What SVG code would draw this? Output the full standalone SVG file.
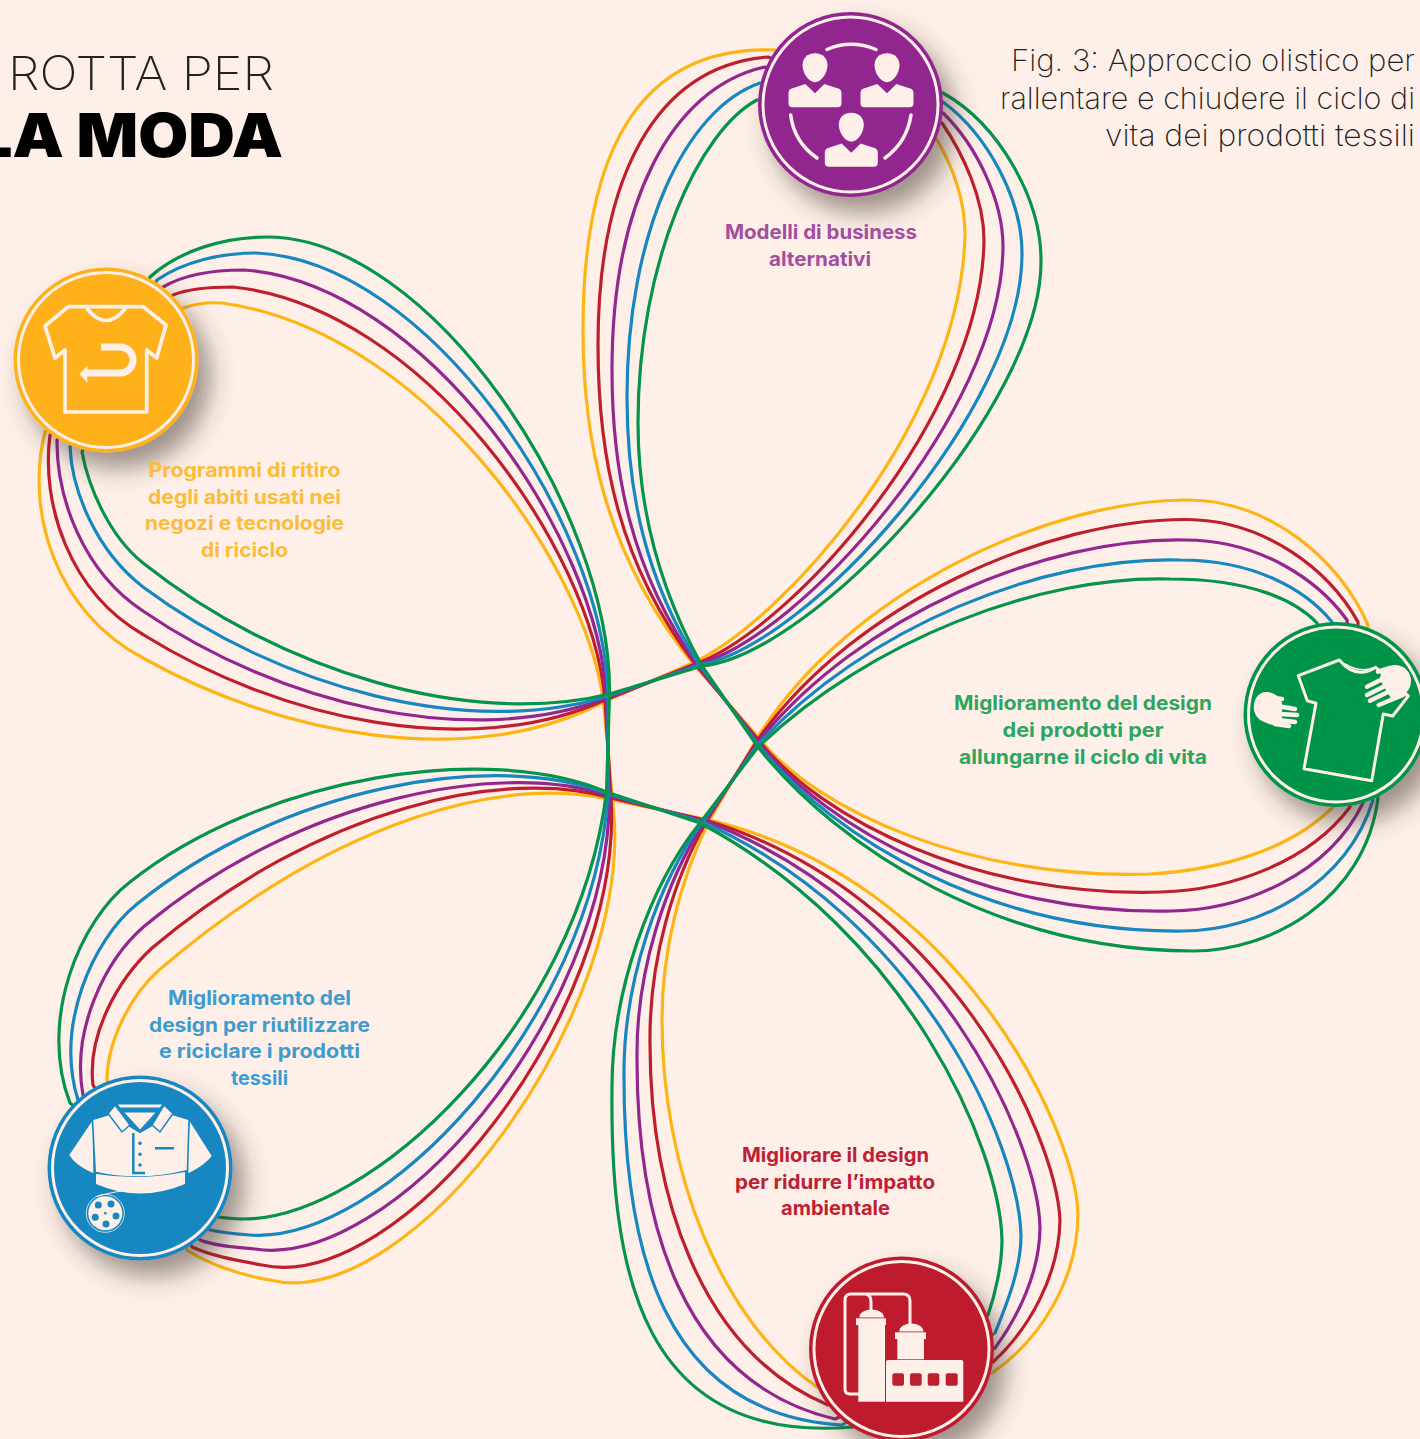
<svg xmlns="http://www.w3.org/2000/svg" width="1420" height="1439" viewBox="0 0 1420 1439">
<defs>
<filter id="sh" x="-30%" y="-30%" width="170%" height="170%"><feDropShadow dx="12" dy="16" stdDeviation="12" flood-color="#3a2e28" flood-opacity="0.5"/></filter>
<g id="person"><path d="M0,0C8,0 12.5,5 12.5,12C12.5,20 6,29 0,29C-6,29 -12.5,20 -12.5,12C-12.5,5 -8,0 0,0Z"/><path d="M-9.7,30.7L0,40L9.3,30.7L24,35.5Q26.5,36.5 26.5,40L26.5,50Q26.5,54 22.5,54L-22.5,54Q-26.5,54 -26.5,50L-26.5,40Q-26.5,36.5 -24,35.5Z"/></g>
</defs>
<style>
.lp{fill:none;stroke-width:3.2;stroke-linejoin:round}
.ring{fill:none;stroke:#fef0e8;stroke-width:3}
.cf{fill:#fef0e8}
.cs{fill:none;stroke:#fef0e8;stroke-linecap:round;stroke-linejoin:round}
text{font-family:"Inter","Liberation Sans",sans-serif}
.lb{font-size:19.5px;font-weight:700;text-anchor:middle}
.cap{font-size:30px;font-weight:200;fill:#222;text-anchor:end}
</style>
<rect width="1420" height="1439" fill="#fef0e8"/>
<text x="8" y="90" font-size="47" font-weight="200" fill="#222" textLength="266" lengthAdjust="spacingAndGlyphs">ROTTA PER</text>
<text x="-24" y="157" font-size="60" font-weight="900" fill="#000" textLength="307" lengthAdjust="spacingAndGlyphs">LA MODA</text>
<text class="cap" x="1415" y="71" textLength="404" lengthAdjust="spacingAndGlyphs">Fig. 3: Approccio olistico per</text>
<text class="cap" x="1415" y="109" textLength="415" lengthAdjust="spacingAndGlyphs">rallentare e chiudere il ciclo di</text>
<text class="cap" x="1415" y="146" textLength="310" lengthAdjust="spacingAndGlyphs">vita dei prodotti tessili</text>
<g id="connectors">
<path class="lp" stroke="#fdb515" d="M692.5,663C785,620 962,420 965,233C965,200 952,165 937,140L775,50C640,45 583,150 583,330C583,440 605,555 692.5,663L758,737C815,810 970,880 1150,874C1220,870 1290,850 1333,807L1368,625C1340,560 1270,500 1187,500C1050,500 850,590 758,737L709.5,820C680,880 662,950 662,1020C662,1170 720,1320 817,1387L992,1373C1040,1340 1078,1280 1078,1213C1075,1130 960,880 709.5,820L612.5,800C510,775 340,815 159,970C132,994 107,1040 107,1080L187,1250C208,1264 240,1275 270,1280C410,1315 640,1010 612.5,800L603.5,702C585,560 420,330 222,303C208,302 195,304 183,308L45,432C25,510 55,612 143,658C280,735 470,772 603.5,702Z"/>
<path class="lp" stroke="#be1e2d" d="M695,664C792.5,628.75 982,416 984,240C984,200 964,155 942,123L768,57C655,66 598,178 598,345C598,458 619,564 695,664L758,739.5C821,820 977.5,898 1161,892C1231,890 1309,862 1350,807L1358,622C1329,570 1265,520 1187,519.5C1047.5,519 855,602.5 758,739.5L707,820.5C672.5,881 650,960 650,1037C649,1195 700,1351 828,1405L993,1362C1029,1329 1059,1276 1060,1220C1056,1135 947.5,894 707,820.5L611,798C507.5,767.5 321,805 152,948C117.5,980 87,1035 93,1085L192,1247C212,1256 235,1260 262,1265C400,1295 624.5,1014 611,798L605,700C592,547.5 422.5,307 233,287C212,287 190,288 173,295L50,435C41,504 69,591.5 143,634.5C280,720 470,761 605,700Z"/>
<path class="lp" stroke="#92278f" d="M697,664.5C800,637.5 1002.5,412.5 1003,246.5C1003,200 976,145 943,113L765,67C670,88 612,205 612,370C612,475 632,572 697,664.5L758,742C827.5,830 985,915.5 1172,911C1243,910 1328,875 1363,803L1347,620C1318,580 1260,540 1185,540C1045,537.5 860,615 758,742L705,821C665,882.5 637,970 637,1053C636,1220 680,1382 835,1419L995,1348C1017.5,1317.5 1040,1272.5 1040,1227C1037.5,1140 935,907.5 705,821L609.5,796C505,760 302.5,795 144.5,926C105,960 71,1030 83,1095L200,1240C215,1246 235,1247 255,1249C390,1270 609,1017.5 609.5,796L606.5,698C598.5,535 425,283.5 244,270C215,270 185,274 163,287L57,440C56.5,497.5 82.5,571 143,611C280,705 470,750 606.5,698Z"/>
<path class="lp" stroke="#1787c1" d="M699.5,665C807.5,646 1023,409 1022,253C1022,200 988,135 943,102L760,83C685,109 627,233 627,397C627,493 646,581 699.5,665L758,744.5C834,840 992.5,933 1183,931C1256,931 1346,887 1373,800L1332,622C1306,590 1255,560 1180,560C1042.5,556 865,627.5 758,744.5L702.5,822C657.5,884 624.5,980 624,1070C623,1245 660,1414 842,1425L995,1333C1006,1306 1021,1269 1021,1236C1019,1145 922.5,921 702.5,822L608,794C497,750 284,785 137,904C92.5,940 55,1025 78,1100L210,1230C220,1232 235,1234 250,1235C380,1245 593.5,1021 608,794L608,696C605,522.5 427.5,260 256,253C220,253 183,262 157,280L70,447C72,491 96,550.5 143,587C280,689 470,739 608,696Z"/>
<path class="lp" stroke="#04944a" d="M702,666C815,655 1043,405 1041,260C1041,200 1000,125 943,93L757,100C700,130 638,260 638,423C638,510 660,590 702,666L758,747C840,850 1000,951 1193,951C1270,951 1365,900 1378,798L1317,623C1295,600 1250,579 1170,579C1040,575 870,640 758,747L700,823C650,885 612,990 612,1087C610,1270 640,1445 853,1427L988,1315C995,1295 1002,1265 1002,1240C1000,1150 910,935 700,823L606.5,792C490,742 265,775 130,882C80,920 38,1020 70,1103L218,1217C226,1218 235,1219 243,1219C370,1219 578,1025 606.5,792L609.5,694C612,510 430,237 267,237C225,237 180,250 150,277L82,452C88,485 108,535 143,563C280,672 470,728 609.5,694Z"/>
</g>
<g id="node-modelli">
<circle cx="850.5" cy="104.5" r="92.5" fill="#92278f" filter="url(#sh)"/>
<circle class="ring" cx="850.5" cy="104.5" r="87.5"/>
<path class="cs" stroke-width="3.5" d="M827,49.5Q851,39 876,49.5M790.7,115Q794,142 817,158M911,115Q907,142 885,158"/>
<use href="#person" class="cf" x="815" y="53.3"/><use href="#person" class="cf" x="887" y="53.3"/><use href="#person" class="cf" x="851.3" y="112.7"/>
<text class="lb" fill="#a24e9e" x="821" y="239" textLength="192" lengthAdjust="spacingAndGlyphs">Modelli di business</text>
<text class="lb" fill="#a24e9e" x="820" y="266" textLength="102" lengthAdjust="spacingAndGlyphs">alternativi</text>
</g>
<g id="node-design-vita">
<circle cx="1336" cy="714.5" r="92.5" fill="#04944a" filter="url(#sh)"/>
<circle class="ring" cx="1336" cy="714.5" r="87.5"/>
<path class="cs" stroke-width="3" d="M1339.3,660L1298.3,675.7L1307.3,700.7L1316,703.3L1304,768.7L1371.7,780.7L1383.3,714L1392.7,716L1408.3,696L1375.7,667.3Q1356,680 1339.3,660"/>
<path class="cs" stroke-width="1.5" d="M1345,664Q1360,673 1373,668"/>
<path class="cf" d="M1266,692C1274,692 1282,698 1282,704L1282,722C1280,727 1272,726 1262,721C1255,717 1253,710 1254,704C1255,697 1260,692 1266,692Z"/>
<path class="cs" stroke-width="4.5" d="M1270,697.5L1282,699M1280,706.5L1295,709M1280,714L1297,715M1278,720L1295,722M1275,724L1289,726"/>
<path class="cf" d="M1395,665C1406,665 1411,674 1411,681C1411,692 1402,697 1392,700L1380,680L1381,672C1386,667 1390,665 1395,665Z"/>
<path class="cs" stroke-width="4.5" d="M1378,671.7L1390,668M1367,686.7L1384,678.3M1367,695L1387,685M1370,700.7L1392,690M1378.7,705L1403,695"/>
<text class="lb" fill="#2ca55f" x="1083" y="710" textLength="258" lengthAdjust="spacingAndGlyphs">Miglioramento del design</text>
<text class="lb" fill="#2ca55f" x="1083" y="737" textLength="161" lengthAdjust="spacingAndGlyphs">dei prodotti per</text>
<text class="lb" fill="#2ca55f" x="1083" y="764" textLength="248" lengthAdjust="spacingAndGlyphs">allungarne il ciclo di vita</text>
</g>
<g id="node-impatto">
<circle cx="901.5" cy="1349" r="92.5" fill="#be1e2d" filter="url(#sh)"/>
<circle class="ring" cx="901.5" cy="1349" r="87.5"/>
<path class="cs" stroke-width="3" d="M858,1394H850Q845,1394 845,1389V1300Q845,1294 851,1294H903Q910,1294 910,1301V1324M865,1294Q871,1294 871,1302V1310"/>
<g class="cf">
<rect x="858.3" y="1325" width="26.7" height="76.7"/><rect x="856" y="1318.3" width="30" height="6.7"/><path d="M859.3,1317.5A12.3,8 0 0 1 884,1317.5Z"/>
<rect x="897.3" y="1338.3" width="26.7" height="21"/><rect x="895" y="1332.3" width="31" height="6.7"/><path d="M899.3,1331.5A12,8 0 0 1 923.3,1331.5Z"/>
<path d="M886,1362Q886,1360 888,1360H961.3Q963.3,1360 963.3,1362V1401.7H886Z"/>
</g>
<g fill="#be1e2d"><rect x="892.3" y="1373.3" width="11.7" height="12.4" rx="2"/><rect x="910" y="1373.3" width="11.7" height="12.4" rx="2"/><rect x="927.7" y="1373.3" width="11.6" height="12.4" rx="2"/><rect x="945.7" y="1373.3" width="12" height="12.4" rx="2"/></g>
<text class="lb" fill="#be2033" x="835.5" y="1162" textLength="187" lengthAdjust="spacingAndGlyphs">Migliorare il design</text>
<text class="lb" fill="#be2033" x="835" y="1189" textLength="200" lengthAdjust="spacingAndGlyphs">per ridurre l’impatto</text>
<text class="lb" fill="#be2033" x="835.5" y="1215" textLength="109" lengthAdjust="spacingAndGlyphs">ambientale</text>
</g>
<g id="node-riutilizzare">
<circle cx="140" cy="1168" r="92.5" fill="#1787c1" filter="url(#sh)"/>
<circle class="ring" cx="140" cy="1168" r="87.5"/>
<g class="cf">
<path d="M93.3,1120L110,1115L140,1133.3L171.7,1115L188.3,1120L186.7,1170Q140,1181.7 96,1171.7Z"/>
<path d="M91.7,1121.7L69.3,1155Q75,1165 93.3,1173.3Q93,1140 91.7,1121.7Z"/>
<path d="M190,1121.7L211.7,1156Q205,1165 188.3,1173.3Q189,1140 190,1121.7Z"/>
<path d="M96,1174Q140,1181 185,1172L185,1184Q140,1203 96,1184Z"/>
<path d="M118,1104.5H162L160,1107.5H120Z"/>
</g>
<path d="M121,1110H159L140,1132Z" fill="#1787c1"/>
<path d="M124.5,1112.5H155.5L140,1129.5Z" fill="#fef0e8"/>
<path class="cf" stroke="#1787c1" stroke-width="1.5" d="M115,1105L108,1113.5L122,1132L130,1125ZM164,1105L173,1113.5L160,1132L152,1125Z"/>
<path fill="none" stroke="#1787c1" stroke-width="2.5" d="M133.3,1133V1173H145M155,1148.3H174"/>
<g fill="#1787c1"><circle cx="140" cy="1143.3" r="1.8"/><circle cx="140" cy="1154.3" r="1.8"/><circle cx="140" cy="1165" r="1.8"/></g>
<circle cx="105.3" cy="1213.3" r="19" fill="none" stroke="#fef0e8" stroke-width="0.8"/>
<circle cx="105.3" cy="1213.3" r="17" class="cf"/>
<g fill="#1787c1"><circle cx="98.3" cy="1205" r="3.5"/><circle cx="111" cy="1204" r="3.5"/><circle cx="116" cy="1216" r="3.5"/><circle cx="106" cy="1224" r="3.5"/><circle cx="95.3" cy="1217.3" r="3.5"/><circle cx="105.3" cy="1213.3" r="1.3"/></g>
<path d="M96.7,1196.7Q116,1190 140,1190" fill="none" stroke="#fef0e8" stroke-width="1"/>
<text class="lb" fill="#3d9ccf" x="259.5" y="1005" textLength="183" lengthAdjust="spacingAndGlyphs">Miglioramento del</text>
<text class="lb" fill="#3d9ccf" x="259.5" y="1032" textLength="221" lengthAdjust="spacingAndGlyphs">design per riutilizzare</text>
<text class="lb" fill="#3d9ccf" x="259.5" y="1058" textLength="201" lengthAdjust="spacingAndGlyphs">e riciclare i prodotti</text>
<text class="lb" fill="#3d9ccf" x="259.5" y="1085" textLength="57" lengthAdjust="spacingAndGlyphs">tessili</text>
</g>
<g id="node-ritiro">
<circle cx="106" cy="360" r="92.5" fill="#ffb11b" filter="url(#sh)"/>
<circle class="ring" cx="106" cy="360" r="87.5"/>
<path class="cs" stroke-width="3.7" d="M68.3,306.7H143.3L166,325L156.7,358L146.7,350V412H65V350L55,358L45,326ZM87.3,309Q106,332 125,309"/>
<path fill="none" stroke="#fef0e8" stroke-width="7" d="M101,347H120A13,13 0 0 1 120,373H87"/>
<path class="cf" d="M79.3,374L87.3,366V382.7Z"/>
<text class="lb" fill="#fdbb3a" x="244.5" y="476.7" textLength="192" lengthAdjust="spacingAndGlyphs">Programmi di ritiro</text>
<text class="lb" fill="#fdbb3a" x="244.5" y="504" textLength="193" lengthAdjust="spacingAndGlyphs">degli abiti usati nei</text>
<text class="lb" fill="#fdbb3a" x="244.5" y="530" textLength="199" lengthAdjust="spacingAndGlyphs">negozi e tecnologie</text>
<text class="lb" fill="#fdbb3a" x="244.5" y="557" textLength="87" lengthAdjust="spacingAndGlyphs">di riciclo</text>
</g>
</svg>
